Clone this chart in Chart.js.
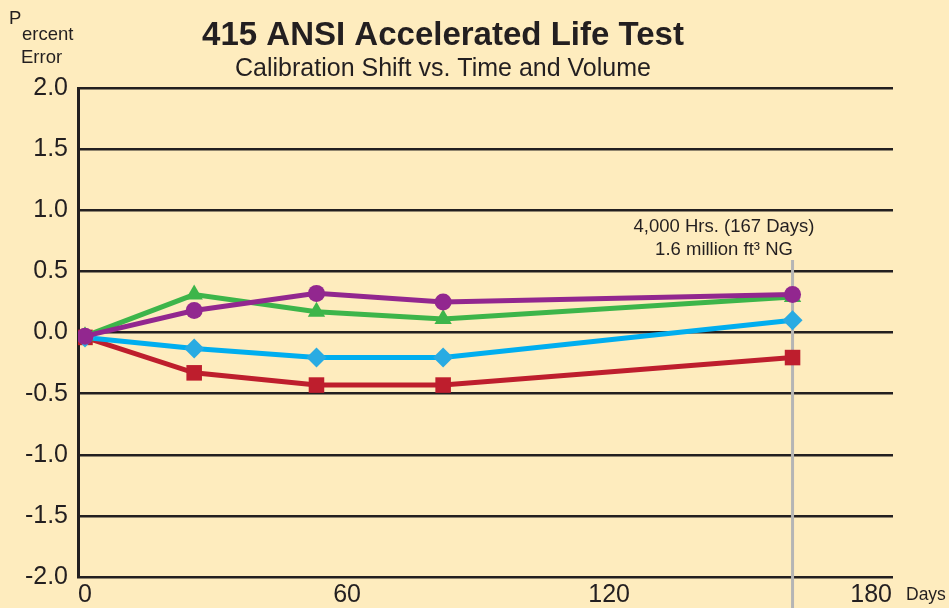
<!DOCTYPE html>
<html>
<head>
<meta charset="utf-8">
<script src="https://cdn.jsdelivr.net/npm/chart.js@4"></script>
<style>
  html, body { margin: 0; padding: 0; background: #feecbe; }
  #wrap { width: 949px; height: 608px; position: relative; }
</style>
</head>
<body>
<div id="wrap"><canvas id="chart-life"></canvas></div>
<script>
// Accelerated life test - readings
const days = [0, 25, 53, 82, 162];
const greenVals = [-0.03, 0.31, 0.17, 0.11, 0.29];
const purpleVals = [-0.03, 0.18, 0.32, 0.25, 0.31];
const blueVals = [-0.04, -0.13, -0.205, -0.205, 0.10];
const redVals = [-0.04, -0.33, -0.43, -0.43, -0.205];
const xTicks = [0, 60, 120, 180];
const markerDay = 162;

const INK = '#231f20';
const FONT = '"Liberation Sans", Arial, sans-serif';

const toPts = (vals) => vals.map((v, i) => ({ x: days[i], y: v }));

function series(label, vals, line, fill, style, radius, order) {
  return {
    label,
    data: toPts(vals),
    borderColor: line,
    backgroundColor: fill,
    pointBackgroundColor: fill,
    pointBorderColor: fill,
    pointBorderWidth: 0,
    borderWidth: 5,
    pointStyle: style,
    pointRadius: radius,
    tension: 0,
    order
  };
}

// titles, axis captions and the 4,000 hr marker
const decorations = {
  id: 'decorations',
  beforeDatasetsDraw(chart) {
    const { ctx, scales } = chart;
    const x = scales.x.getPixelForValue(markerDay);
    ctx.save();
    ctx.strokeStyle = '#b5b5b5';
    ctx.lineWidth = 3;
    ctx.beginPath();
    ctx.moveTo(x, 260);
    ctx.lineTo(x, 608);
    ctx.stroke();
    ctx.restore();
  },
  afterDraw(chart) {
    const { ctx } = chart;
    ctx.save();
    ctx.fillStyle = INK;
    ctx.textBaseline = 'alphabetic';
    ctx.textAlign = 'center';
    ctx.font = 'bold 33px ' + FONT;
    ctx.fillText('415 ANSI Accelerated Life Test', 443, 45);
    ctx.font = '25px ' + FONT;
    ctx.fillText('Calibration Shift vs. Time and Volume', 443, 76);

    ctx.font = '18.5px ' + FONT;
    ctx.fillText('4,000 Hrs. (167 Days)', 724, 232);
    ctx.fillText('1.6 million ft\u00B3 NG', 724, 255);

    ctx.textAlign = 'left';
    ctx.fillText('P', 9, 24);
    ctx.fillText('ercent', 22, 40);
    ctx.fillText('Error', 21, 63);

    ctx.font = '17.5px ' + FONT;
    ctx.fillText('Days', 906, 600);
    ctx.restore();
  }
};

new Chart(document.getElementById('chart-life'), {
  type: 'line',
  data: {
    datasets: [
      series('Purple', purpleVals, '#92278f', '#92278f', 'circle', 8.5, 1),
      series('Green', greenVals, '#3db54a', '#3db54a', 'triangle', 10, 2),
      series('Blue', blueVals, '#00aeef', '#29abe2', 'rectRot', 10, 3),
      series('Red', redVals, '#be1e2d', '#be1e2d', 'rect', 11, 4)
    ]
  },
  options: {
    responsive: true,
    maintainAspectRatio: false,
    animation: false,
    layout: { padding: { top: 88, right: 56, left: 0, bottom: 0 } },
    plugins: {
      legend: { display: false },
      tooltip: { enabled: false }
    },
    scales: {
      x: {
        type: 'linear',
        min: -1.6,
        max: 185,
        afterBuildTicks: (s) => { s.ticks = xTicks.map(v => ({ value: v })); },
        afterFit: (s) => { s.height = 31; },
        grid: { display: false, drawTicks: false },
        border: { display: false },
        ticks: {
          color: INK,
          padding: 3,
          maxRotation: 0,
          font: { family: FONT, size: 25 }
        }
      },
      y: {
        min: -2,
        max: 2,
        afterFit: (s) => { s.width = 78; },
        grid: { color: INK, lineWidth: 2.5, drawTicks: false },
        border: { display: true, color: INK, width: 3 },
        ticks: {
          stepSize: 0.5,
          color: INK,
          padding: 10,
          font: { family: FONT, size: 25 },
          callback: (v) => v.toFixed(1)
        }
      }
    }
  },
  plugins: [decorations]
});
</script>
</body>
</html>
